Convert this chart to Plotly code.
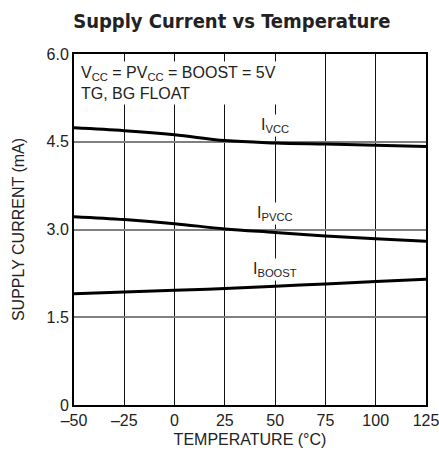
import plotly.graph_objects as go

temps = [-50, -25, 0, 25, 50, 75, 100, 125]
i_vcc = [4.74, 4.69, 4.62, 4.52, 4.48, 4.46, 4.44, 4.42]
i_pvcc = [3.22, 3.17, 3.10, 3.01, 2.95, 2.89, 2.84, 2.80]
i_boost = [1.90, 1.93, 1.96, 1.99, 2.03, 2.07, 2.11, 2.15]

x_ticks = [-50, -25, 0, 25, 50, 75, 100, 125]
x_ticktext = ["–50", "–25", "0", "25", "50", "75", "100", "125"]
y_ticks = [0, 1.5, 3.0, 4.5, 6.0]
y_ticktext = ["0", "1.5", "3.0", "4.5", "6.0"]

FONT = "Liberation Sans Narrow, Arial Narrow, Liberation Sans, sans-serif"
TITLE_FONT = "DejaVu Sans Condensed, Liberation Sans Narrow, Liberation Sans, sans-serif"

fig = go.Figure()
for ys in (i_vcc, i_pvcc, i_boost):
    fig.add_trace(go.Scatter(x=temps, y=ys, mode="lines",
                             line=dict(color="black", width=3, shape="spline"),
                             showlegend=False, hoverinfo="skip"))

fig.update_layout(
    width=439, height=460,
    margin=dict(l=74, r=13, t=54, b=55, autoexpand=False),
    paper_bgcolor="white", plot_bgcolor="white",
    font=dict(family=FONT, size=16, color="#222"),
    title=dict(text="<b>Supply Current vs Temperature</b>", x=0.528, xanchor="center",
               y=0.955, yanchor="middle", font=dict(family=TITLE_FONT, size=20, color="#222")),
    xaxis=dict(range=[-50, 125], tickvals=x_ticks, ticktext=x_ticktext,
               showgrid=True, gridcolor="#111", gridwidth=1,
               showline=True, linecolor="black", linewidth=2, mirror=True,
               ticks="", zeroline=False, tickfont=dict(size=16),
               ticklabeloverflow="allow", automargin=False,
               title=dict(text="TEMPERATURE (°C)", font=dict(size=16), standoff=6)),
    yaxis=dict(range=[0, 6.0], tickvals=y_ticks, ticktext=y_ticktext,
               showgrid=True, gridcolor="#808080", gridwidth=1.5,
               showline=True, linecolor="black", linewidth=2, mirror=True,
               ticks="", zeroline=False, tickfont=dict(size=16),
               ticklabeloverflow="allow", automargin=False,
               title=dict(text="SUPPLY CURRENT (mA)", font=dict(size=16), standoff=18)),
)

fig.add_annotation(xref="x", yref="y", x=-48, y=5.88, xanchor="left", yanchor="top",
                   align="left", showarrow=False, bgcolor="white", borderpad=2,
                   text="V<sub>CC</sub> = PV<sub>CC</sub> = BOOST = 5V<br>TG, BG FLOAT",
                   font=dict(size=16, color="#222"))
for label, yv in (("I<sub>VCC</sub>", 4.78), ("I<sub>PVCC</sub>", 3.27), ("I<sub>BOOST</sub>", 2.31)):
    fig.add_annotation(xref="x", yref="y", x=50, y=yv, xanchor="center", yanchor="middle",
                       showarrow=False, bgcolor="white", borderpad=1, text=label,
                       font=dict(size=16, color="#222"))

fig.write_html("out.html", config={"displayModeBar": False},
               post_script="document.body.style.margin='0';")
